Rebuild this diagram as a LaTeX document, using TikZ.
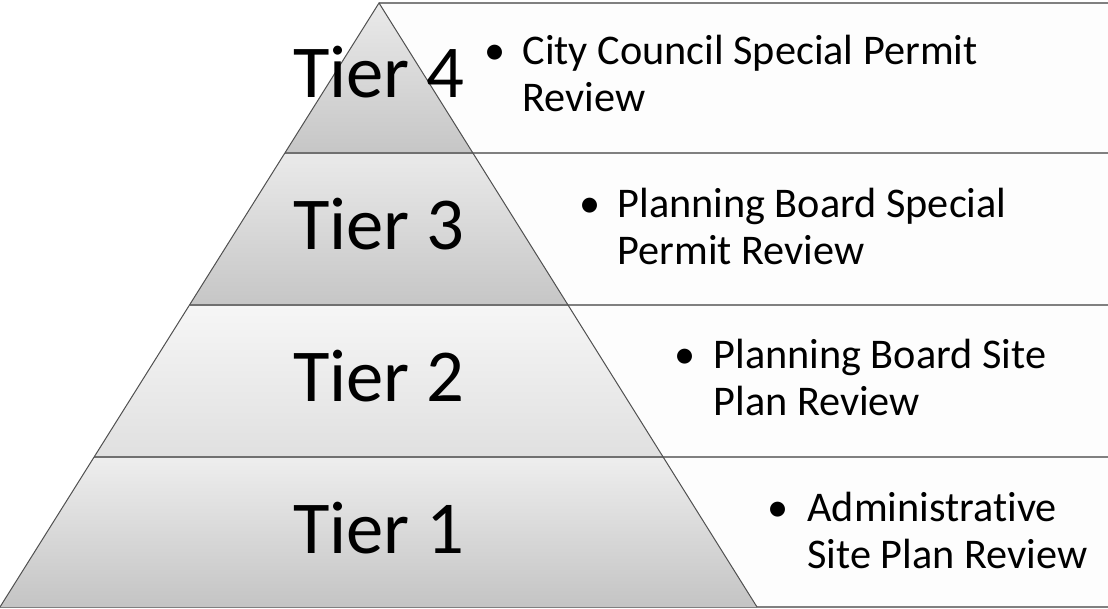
\documentclass[tikz,border=0pt]{standalone}
\usepackage{fontspec}
\setmainfont{Carlito}[Ligatures=NoCommon]

\definecolor{boxfill}{RGB}{253,253,253}
\definecolor{boxedge}{RGB}{128,128,128}
\definecolor{pyredge}{RGB}{80,80,80}
\definecolor{tierline}{RGB}{112,112,112}
\definecolor{tierfourtop}{RGB}{234,234,234}
\definecolor{tierfourbot}{RGB}{198,198,198}
\definecolor{tierthreetop}{RGB}{234,234,234}
\definecolor{tierthreebot}{RGB}{198,198,198}
\definecolor{tiertwotop}{RGB}{246,246,246}
\definecolor{tiertwobot}{RGB}{224,224,224}
\definecolor{tieronetop}{RGB}{238,238,238}
\definecolor{tieronebot}{RGB}{196,196,196}

\tikzset{every picture/.style={line width=0.75pt}}
\tikzset{
  tierlbl/.style={anchor=base, inner sep=0pt, font=\fontsize{56}{67}\selectfont},
  itemlbl/.style={anchor=base west, inner sep=0pt, font=\fontsize{31.7}{35.25}\selectfont},
  dotlbl/.style={anchor=base, inner sep=0pt, font=\fontsize{31.7}{35.25}\selectfont},
  boxline/.style={draw=boxedge, line width=1.5},
}

\begin{document}
\begin{tikzpicture}[x=0.75pt,y=0.75pt,yscale=-1,xscale=1]
\useasboundingbox (0,0) rectangle (1108,609);

%Shape: Rectangle [id:box4]
\path [fill=boxfill] (379,3) rectangle (1108,153);
%Shape: Rectangle [id:box3]
\path [fill=boxfill] (379,153) rectangle (1108,305);
%Shape: Rectangle [id:box2]
\path [fill=boxfill] (379,305) rectangle (1108,457);
%Shape: Rectangle [id:box1]
\path [fill=boxfill] (379,457) rectangle (1108,607);
%Straight Lines [id:boxlines]
\draw [boxline] (379,3) -- (1108,3);
\draw [boxline] (285,153) -- (1108,153);
\draw [boxline] (189.5,305) -- (1108,305);
\draw [boxline] (94,457) -- (1108,457);
\draw [boxline] (0,607) -- (1108,607);

%Shape: Triangle [id:tier4]
\path [top color=tierfourtop, bottom color=tierfourbot] (379,3) -- (473,153) -- (285,153) -- cycle ;
%Shape: Trapezoid [id:tier3]
\path [top color=tierthreetop, bottom color=tierthreebot] (285,153) -- (473,153) -- (568,305) -- (189.5,305) -- cycle ;
%Shape: Trapezoid [id:tier2]
\path [top color=tiertwotop, bottom color=tiertwobot] (189.5,305) -- (568,305) -- (663,457) -- (94,457) -- cycle ;
%Shape: Trapezoid [id:tier1]
\path [top color=tieronetop, bottom color=tieronebot] (94,457) -- (663,457) -- (757,607) -- (0,607) -- cycle ;

%Straight Lines [id:tierlines]
\draw [draw=tierline, line width=1.5] (285,153) -- (473,153) ;
\draw [draw=tierline, line width=1.5] (189.5,305) -- (568,305) ;
\draw [draw=tierline, line width=1.5] (94,457) -- (663,457) ;
%Straight Lines [id:pyramid]
\draw [draw=pyredge] (0,607) -- (379,3) -- (757,607) ;

% Text Node
\node (tier4) [tierlbl] at (379,98) {Tier 4};
% Text Node
\node (tier3) [tierlbl] at (379,250) {Tier 3};
% Text Node
\node (tier2) [tierlbl] at (379,402) {Tier 2};
% Text Node
\node (tier1) [tierlbl] at (379,554) {Tier 1};

% Text Node
\node (dot4) [dotlbl] at (495,65) {\textbullet};
\node (item4) [itemlbl] at (522,65) {\begin{tabular}[t]{@{}l@{}}City Council Special Permit\\Review\end{tabular}};
% Text Node
\node (dot3) [dotlbl] at (590,218) {\textbullet};
\node (item3) [itemlbl] at (617,218) {\begin{tabular}[t]{@{}l@{}}Planning Board Special\\Permit Review\end{tabular}};
% Text Node
\node (dot2) [dotlbl] at (685,369) {\textbullet};
\node (item2) [itemlbl] at (713,369) {\begin{tabular}[t]{@{}l@{}}Planning Board Site\\Plan Review\end{tabular}};
% Text Node
\node (dot1) [dotlbl] at (778,522) {\textbullet};
\node (item1) [itemlbl] at (807,522) {\begin{tabular}[t]{@{}l@{}}Administrative\\Site Plan Review\end{tabular}};

\end{tikzpicture}
\end{document}
